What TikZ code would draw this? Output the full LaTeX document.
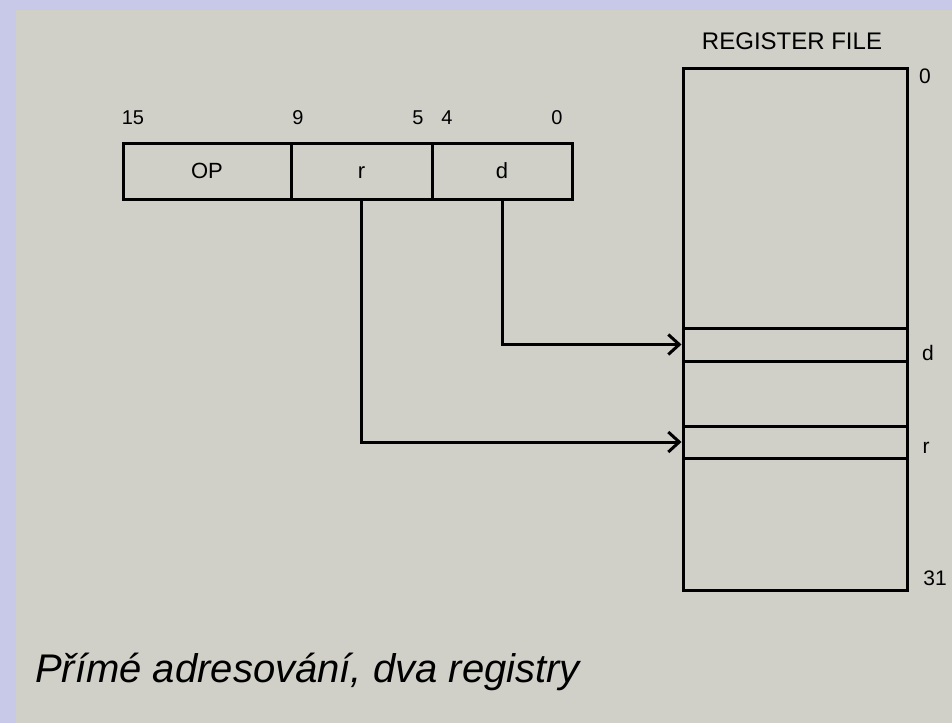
\documentclass[tikz,border=0pt]{standalone}
\usepackage{fontspec}
\setmainfont{Liberation Sans}
\usetikzlibrary{arrows.meta}
\definecolor{pagegray}{RGB}{208,208,200}
\definecolor{edgelilac}{RGB}{200,200,232}
\tikzset{
  field/.style={draw=black,line width=3pt,minimum height=56pt,inner sep=0pt,text height=15pt,text depth=0pt,font=\fontsize{22}{25}\selectfont},
  bitno/.style={inner sep=0pt,font=\fontsize{20}{23}\selectfont},
  regno/.style={inner sep=0pt,font=\fontsize{21}{24}\selectfont},
  regrow/.style={draw=black,line width=3pt,minimum width=224pt,inner sep=0pt},
  feed/.style={draw=black,line width=3pt,-{Straight Barb[length=11pt,width=20pt,line width=3pt]}}
}
\begin{document}
\begin{tikzpicture}[x=1pt,y=-1pt]
\useasboundingbox (0,0) rectangle (952,723);
% background (photo of the page):
\path[fill=edgelilac] (0,0) rectangle (952,723);
\path[fill=pagegray] (16,10) rectangle (952,723);
% instruction word:
\node[field,minimum width=168pt] (op) at (207,171) {OP};
\node[field,minimum width=141pt] (r) at (361.5,171) {r};
\node[field,minimum width=140pt] (d) at (502,171) {d};
\node[bitno] (b15) at (133,118) {15};
\node[bitno] (b9) at (298,118) {9};
\node[bitno] (b5) at (418,118) {5};
\node[bitno] (b4) at (447,118) {4};
\node[bitno] (b0) at (557,118) {0};
% register file:
\node[regrow,minimum height=522pt] (regfile) at (795,329) {};
\node[regrow,minimum height=33pt] (regd) at (795,344.5) {};
\node[regrow,minimum height=32pt] (regr) at (795,442) {};
\node[inner sep=0pt,font=\fontsize{24}{28}\selectfont] (title) at (792,41) {REGISTER FILE};
\node[regno] (top) at (925,76) {0};
\node[regno] (bottom) at (935,578) {31};
\node[regno] (dname) at (928,353) {d};
\node[regno] (rname) at (926,448) {r};
% operand fields to registers:
\draw[feed] (d.south) |- (regd.west);
\draw[feed] (r.south) |- (regr.west);
% caption:
\node[anchor=west,inner sep=0pt,font=\fontsize{40}{45}\selectfont\itshape] (caption) at (35,672) {Přímé adresování, dva registry};
\end{tikzpicture}
\end{document}
